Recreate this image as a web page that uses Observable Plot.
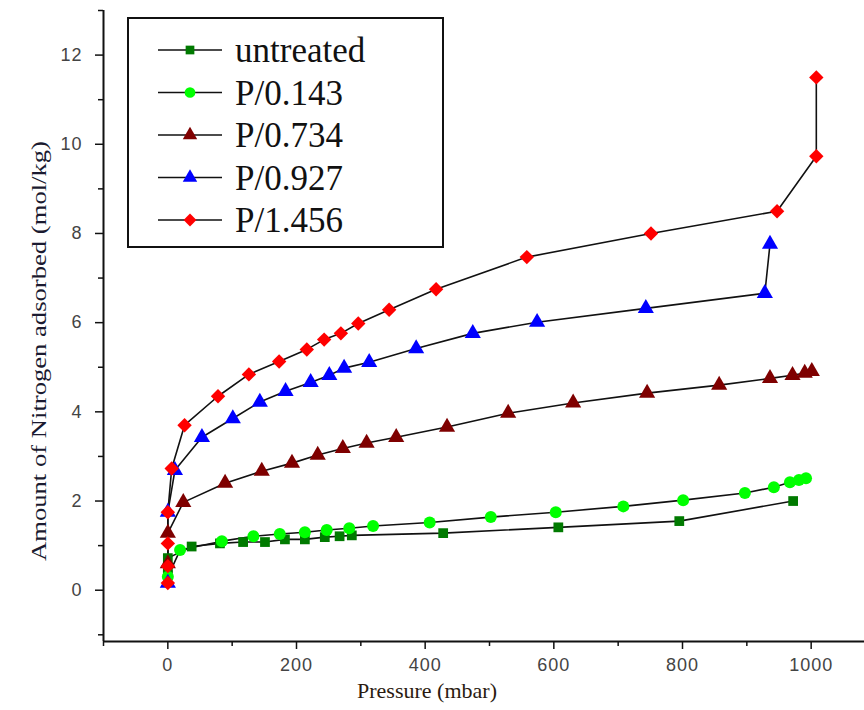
<!DOCTYPE html>
<html>
<head>
<meta charset="utf-8">
<script src="https://cdn.jsdelivr.net/npm/d3@7"></script>
<script src="https://cdn.jsdelivr.net/npm/@observablehq/plot@0.6"></script>
<style>
  html, body { margin: 0; padding: 0; background: #fff; }
  #chart { position: relative; width: 864px; height: 710px; }
</style>
</head>
<body>
<div id="chart"></div>
<script>
const seriesNames = ["untreated", "P/0.143", "P/0.734", "P/0.927", "P/1.456"];
const seriesColors = ["#007a00", "#00ff00", "#7f0000", "#0000ff", "#ff0000"];
const seriesSymbols = ["square", "circle", "triangle", "triangle", "diamond2"];
const seriesR = [5.5, 6, 6, 6, 6.5];

const untreatedP = [0, 0, 0, 37, 81, 117, 151, 182, 213, 244, 267, 286, 428, 607, 795, 972];
const untreatedN = [0.34, 0.5, 0.72, 0.98, 1.05, 1.08, 1.08, 1.14, 1.14, 1.19, 1.21, 1.23, 1.28, 1.41, 1.55, 2.0];

const p143P = [0, 19, 84, 133, 174, 213, 247, 282, 319, 407, 502, 603, 708, 801, 897, 942, 967, 981, 992];
const p143N = [0.3, 0.9, 1.1, 1.21, 1.26, 1.3, 1.35, 1.39, 1.44, 1.52, 1.64, 1.75, 1.88, 2.02, 2.18, 2.31, 2.42, 2.47, 2.51];

const p734P = [0, 0, 24, 89, 146, 193, 233, 272, 309, 355, 434, 529, 630, 745, 857, 936, 971, 990, 1001];
const p734N = [0.6, 1.28, 1.97, 2.4, 2.67, 2.85, 3.03, 3.18, 3.3, 3.43, 3.66, 3.97, 4.2, 4.42, 4.6, 4.75, 4.82, 4.87, 4.91];

const p927P = [0, 0, 11, 53, 101, 143, 183, 222, 251, 274, 313, 386, 474, 574, 743, 928, 936];
const p927N = [0.16, 1.75, 2.69, 3.43, 3.85, 4.22, 4.46, 4.66, 4.82, 4.98, 5.11, 5.42, 5.76, 6.01, 6.32, 6.66, 7.76];

const p1456P = [0, 0, 0, 0, 6, 26, 78, 126, 173, 216, 243, 269, 296, 344, 417, 558, 751, 947, 1008, 1008];
const p1456N = [0.16, 0.54, 1.05, 1.75, 2.73, 3.7, 4.35, 4.84, 5.13, 5.4, 5.62, 5.76, 5.98, 6.29, 6.75, 7.47, 8.0, 8.5, 9.73, 11.5];

const xMajor = [0, 200, 400, 600, 800, 1000];
const xMinor = [-100, 100, 300, 500, 700, 900];
const yMajor = [0, 2, 4, 6, 8, 10, 12];
const yMinor = [-1, 1, 3, 5, 7, 9, 11, 13];

const xTitle = "Pressure (mbar)";
const yTitle = "Amount of Nitrogen adsorbed (mol/kg)";

const allP = [untreatedP, p143P, p734P, p927P, p1456P];
const allN = [untreatedN, p143N, p734N, p927N, p1456N];
const rows = [];
seriesNames.forEach((s, i) => {
  allP[i].forEach((p, j) => rows.push({series: s, idx: i, p, n: allN[i][j]}));
});

const xDomain = [-100, 1100];
const yDomain = [-1.15, 13];

const lineMarks = seriesNames.map((s, i) =>
  Plot.line(rows.filter(d => d.idx === i), {x: "p", y: "n", stroke: "#111", strokeWidth: 1.6})
);
const dotMarks = seriesNames.map((s, i) =>
  Plot.dot(rows.filter(d => d.idx === i), {x: "p", y: "n", symbol: () => seriesSymbols[i], r: seriesR[i], fill: seriesColors[i], stroke: "none"})
);

const tickFont = "Liberation Sans, Arial, sans-serif";
const plot = Plot.plot({
  width: 864,
  height: 710,
  marginLeft: 103, marginRight: 0, marginTop: 10, marginBottom: 69,
  x: {domain: xDomain, range: [103, 875]},
  y: {domain: yDomain, range: [641, 10]},
  style: {background: "#fff", overflow: "hidden"},
  marks: [
    Plot.axisX({ticks: xMajor, tickSize: 8, tickPadding: 9, tickFormat: d => String(d), label: null, fontSize: 18, fill: "#444", stroke: "#111", strokeWidth: 1.5, fontFamily: tickFont}),
    Plot.axisX({ticks: xMinor, tickSize: 5, tickFormat: () => "", label: null, stroke: "#111", strokeWidth: 1.5}),
    Plot.axisY({ticks: yMajor, tickSize: 8, tickPadding: 13, tickFormat: d => String(d), label: null, fontSize: 18, fill: "#444", stroke: "#111", strokeWidth: 1.5, fontFamily: tickFont}),
    Plot.axisY({ticks: yMinor, tickSize: 5, tickFormat: () => "", label: null, stroke: "#111", strokeWidth: 1.5}),
    Plot.ruleX([xDomain[0]], {stroke: "#111", strokeWidth: 2}),
    Plot.ruleY([yDomain[0]], {stroke: "#111", strokeWidth: 2}),
    ...lineMarks,
    ...dotMarks
  ]
});

document.getElementById("chart").appendChild(plot);
const svg = d3.select(plot);
svg.selectAll("g[aria-label='x-axis tick label'] text, g[aria-label='y-axis tick label'] text")
  .attr("letter-spacing", "1");

// axis titles
svg.append("text")
  .attr("x", 427).attr("y", 698)
  .attr("text-anchor", "middle")
  .attr("font-family", "Liberation Serif, Times New Roman, serif")
  .attr("font-size", 22).attr("fill", "#2a1a10")
  .attr("textLength", 140).attr("lengthAdjust", "spacingAndGlyphs")
  .text(xTitle);
svg.append("text")
  .attr("transform", "translate(46,351) rotate(-90)")
  .attr("text-anchor", "middle")
  .attr("font-family", "Liberation Serif, Times New Roman, serif")
  .attr("font-size", 22).attr("fill", "#1a1a30")
  .attr("textLength", 420).attr("lengthAdjust", "spacingAndGlyphs")
  .text(yTitle);

// legend
const lg = svg.append("g").attr("text-anchor", "start");
lg.append("rect").attr("x", 128).attr("y", 18).attr("width", 315).attr("height", 229)
  .attr("fill", "#fff").attr("stroke", "#111").attr("stroke-width", 2);
const symMap = {square: d3.symbolSquare, circle: d3.symbolCircle, triangle: d3.symbolTriangle, diamond2: d3.symbolDiamond2};
seriesNames.forEach((s, i) => {
  const y = 50 + i * 42.5;
  lg.append("line").attr("x1", 158).attr("x2", 222).attr("y1", y).attr("y2", y)
    .attr("stroke", "#111").attr("stroke-width", 1.6);
  lg.append("path")
    .attr("d", d3.symbol(symMap[seriesSymbols[i]], Math.PI * seriesR[i] * seriesR[i] * 0.8)())
    .attr("transform", `translate(190,${y})`)
    .attr("fill", seriesColors[i]);
  lg.append("text").attr("x", 235).attr("y", y + 12)
    .attr("text-anchor", "start")
    .attr("font-family", "Liberation Serif, Times New Roman, serif")
    .attr("font-size", 35).attr("fill", "#111")
    .text(s);
});
</script>
</body>
</html>
